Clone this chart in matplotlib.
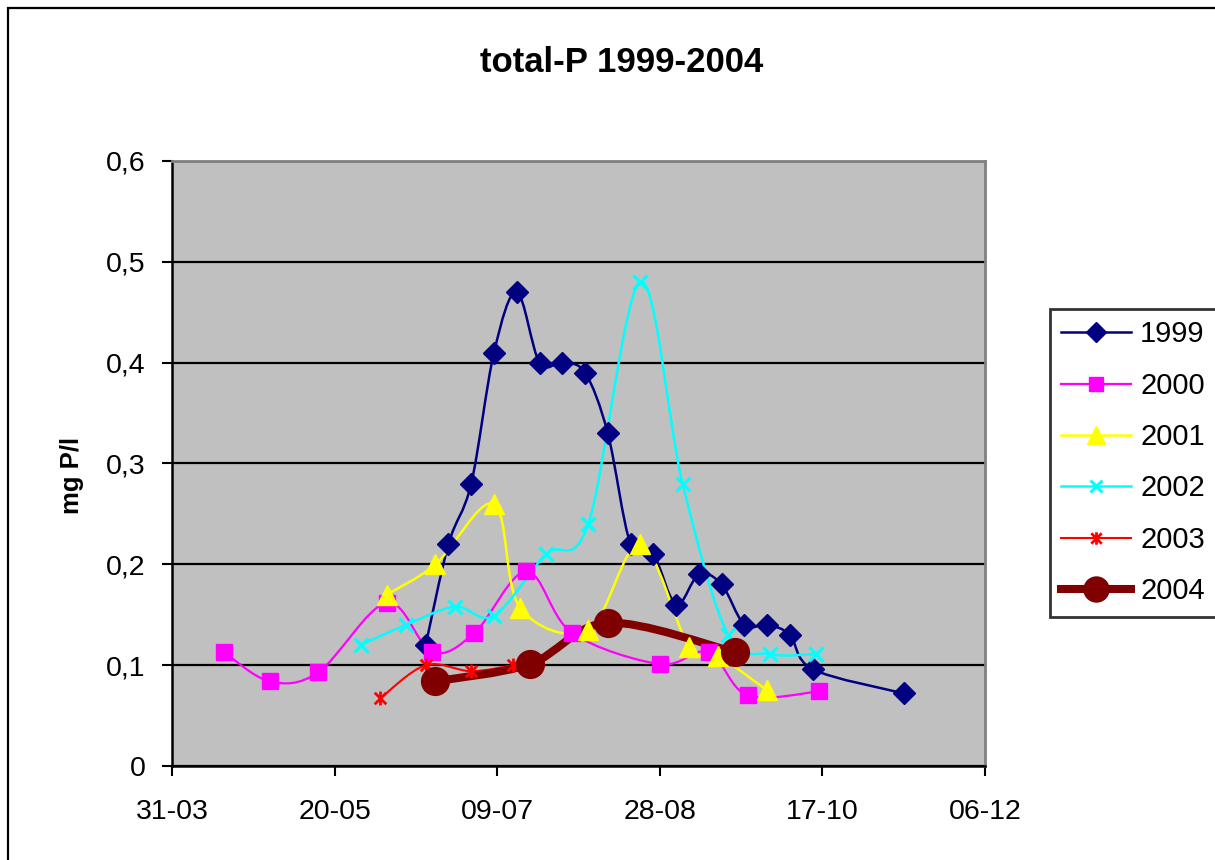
import datetime as dt
import numpy as np
import matplotlib
matplotlib.use("Agg")
import matplotlib.pyplot as plt
import matplotlib.dates as mdates
from matplotlib.path import Path
from matplotlib.patches import PathPatch, Rectangle
from matplotlib.lines import Line2D

plt.rcParams['font.family'] = ['Liberation Sans', 'DejaVu Sans']

# sampling dates (dd-mm) and total-P in mg P/l for each year
dates_1999 = ["17-06", "24-06", "01-07", "08-07", "15-07", "22-07", "29-07", "05-08",
              "12-08", "19-08", "26-08", "02-09", "09-09", "16-09", "23-09", "30-09",
              "07-10", "14-10", "11-11"]
tp_1999 = [0.12, 0.22, 0.28, 0.41, 0.47, 0.40, 0.40, 0.39, 0.33, 0.22, 0.21, 0.16,
           0.19, 0.18, 0.14, 0.14, 0.13, 0.096, 0.072]

dates_2000 = ["16-04", "30-04", "15-05", "05-06", "19-06", "02-07", "18-07", "01-08",
              "28-08", "12-09", "24-09", "16-10"]
tp_2000 = [0.113, 0.084, 0.093, 0.162, 0.113, 0.132, 0.193, 0.132, 0.101, 0.113,
           0.070, 0.074]

dates_2001 = ["05-06", "20-06", "08-07", "16-07", "06-08", "22-08", "06-09", "15-09", "30-09"]
tp_2001 = [0.17, 0.20, 0.26, 0.157, 0.135, 0.22, 0.118, 0.109, 0.075]

dates_2002 = ["28-05", "11-06", "26-06", "08-07", "24-07", "06-08", "22-08", "04-09",
              "18-09", "01-10", "15-10"]
tp_2002 = [0.12, 0.14, 0.158, 0.149, 0.21, 0.24, 0.48, 0.28, 0.13, 0.111, 0.111]

dates_2003 = ["03-06", "17-06", "01-07", "14-07"]
tp_2003 = [0.067, 0.10, 0.094, 0.10]

dates_2004 = ["20-06", "19-07", "12-08", "20-09"]
tp_2004 = [0.084, 0.101, 0.142, 0.113]

years = ["1999", "2000", "2001", "2002", "2003", "2004"]
x_ticklabels = ["31-03", "20-05", "09-07", "28-08", "17-10", "06-12"]
y_ticks = [0, 0.1, 0.2, 0.3, 0.4, 0.5, 0.6]


def to_num(ddmm):
    d, m = ddmm.split("-")
    return mdates.date2num(dt.date(2000, int(m), int(d)))


# asterisk marker: an x with a vertical bar through it
star = Path([(-1, -1), (1, 1), (-1, 1), (1, -1), (0, -1.2), (0, 1.2)],
            [Path.MOVETO, Path.LINETO] * 3)


def smooth_path(x, y):
    # cubic bezier through the points (catmull-rom tangents)
    pts = np.column_stack([x, y])
    n = len(pts)
    verts = [pts[0]]
    codes = [Path.MOVETO]
    for i in range(n - 1):
        p0 = pts[i - 1] if i > 0 else pts[i]
        p1 = pts[i]
        p2 = pts[i + 1]
        p3 = pts[i + 2] if i + 2 < n else pts[i + 1]
        c1 = p1 + (p2 - p0) / 6.0
        c2 = p2 - (p3 - p1) / 6.0
        verts += [c1, c2, p2]
        codes += [Path.CURVE4] * 3
    return Path(verts, codes)


series = [
    (dates_1999, tp_1999, dict(color="#000080", lw=1.8, marker="D", ms=11, mec="#000080")),
    (dates_2000, tp_2000, dict(color="#FF00FF", lw=1.6, marker="s", ms=11.5, mec="#FF00FF")),
    (dates_2001, tp_2001, dict(color="#FFFF00", lw=1.8, marker="^", ms=14, mec="#FFFF00")),
    (dates_2002, tp_2002, dict(color="#00FFFF", lw=1.8, marker="x", ms=10, mec="#00FFFF", mew=2.2)),
    (dates_2003, tp_2003, dict(color="#FF0000", lw=1.5, marker=star, ms=10, mec="#FF0000", mew=2)),
    (dates_2004, tp_2004, dict(color="#800000", lw=5.8, marker="o", ms=20, mec="#800000")),
]

fig = plt.figure(figsize=(12.15, 8.6), dpi=100)
ax = fig.add_axes([0.1416, 0.1093, 0.6691, 0.7035])
ax.set_facecolor("#C0C0C0")

handles = []
for k, (dates, vals, st) in enumerate(series):
    xs = np.array([to_num(d) for d in dates])
    ys = np.array(vals)
    ax.add_patch(PathPatch(smooth_path(xs, ys), fill=False, edgecolor=st["color"],
                           lw=st["lw"], capstyle="round", joinstyle="round", zorder=3))
    ax.plot(xs, ys, linestyle="none", marker=st["marker"], ms=st["ms"],
            mfc=st["color"], mec=st["mec"], mew=st.get("mew", 1), zorder=4 + k * 0.01)
    handles.append(Line2D([], [], color=st["color"], lw=st["lw"], marker=st["marker"],
                          ms=st["ms"] * 0.9, mfc=st["color"], mec=st["mec"],
                          mew=st.get("mew", 1)))

xticks = [to_num(t) for t in x_ticklabels]
ax.set_xlim(xticks[0], xticks[-1])
ax.set_xticks(xticks)
ax.xaxis.set_major_formatter(mdates.DateFormatter("%d-%m"))
ax.set_ylim(0, 0.6)
ax.set_yticks(y_ticks)
ax.set_yticklabels([("%g" % v).replace(".", ",") for v in y_ticks])

ax.yaxis.grid(True, color="black", lw=1.6)
ax.set_axisbelow(True)
ax.tick_params(axis="both", direction="out", length=7, width=1.5, labelsize=20.5,
               colors="black")
ax.tick_params(axis="y", pad=12)
ax.tick_params(axis="x", pad=17)
for side in ["left", "bottom"]:
    ax.spines[side].set_color("black")
    ax.spines[side].set_linewidth(1.8)
for side in ["top", "right"]:
    ax.spines[side].set_color("#808080")
    ax.spines[side].set_linewidth(2)

ax.set_ylabel("mg P/l", fontsize=18.5, fontweight="bold")
ax.yaxis.set_label_coords(-0.108, 0.48)
fig.text(0.512, 0.927, "total-P 1999-2004", ha="center", va="center",
         fontsize=25, fontweight="bold")

leg = fig.legend(handles, years, loc="upper left", bbox_to_anchor=(0.864, 0.641),
                 fontsize=21, frameon=True, fancybox=False, edgecolor="black",
                 handlelength=2.4, handletextpad=0.3, labelspacing=0.8,
                 borderpad=0.4, borderaxespad=0)
leg.get_frame().set_linewidth(2)

# outer chart frame
fig.patches.append(Rectangle((8 / 1215, -0.2), 1.2, 1.2 - 8 / 860, fill=False,
                             edgecolor="black", lw=1.6, transform=fig.transFigure,
                             figure=fig))

fig.savefig("out.png", dpi=100)
